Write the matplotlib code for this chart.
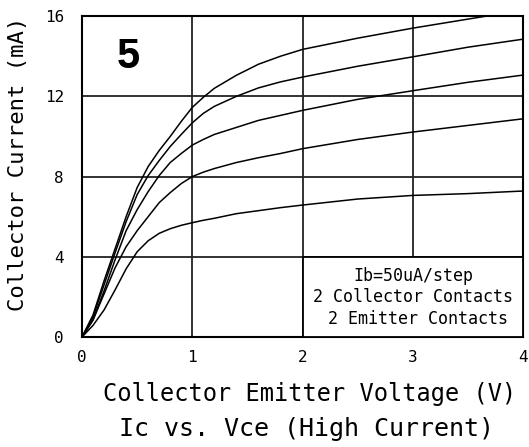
import matplotlib
matplotlib.use("Agg")
import matplotlib.pyplot as plt
from matplotlib.patches import Rectangle

# Vce sample points (V) and collector current curves (mA), one per Ib step
vce = [0, 0.1, 0.2, 0.3, 0.4, 0.5, 0.6, 0.7, 0.8, 0.9, 1.0, 1.1, 1.2, 1.4, 1.6, 1.8, 2.0, 2.5, 3.0, 3.5, 4.0]
ic_250 = [0, 1.1, 2.8, 4.4, 6.0, 7.45, 8.5, 9.3, 10.0, 10.75, 11.45, 11.95, 12.4, 13.05, 13.6, 14.0, 14.34, 14.9, 15.4, 15.85, 16.3]
ic_200 = [0, 1.0, 2.6, 4.2, 5.75, 7.1, 8.05, 8.8, 9.5, 10.1, 10.68, 11.15, 11.5, 12.0, 12.42, 12.72, 12.96, 13.5, 13.97, 14.45, 14.85]
ic_150 = [0, 0.85, 2.3, 3.85, 5.3, 6.35, 7.25, 8.05, 8.7, 9.15, 9.57, 9.85, 10.1, 10.45, 10.8, 11.05, 11.3, 11.85, 12.28, 12.7, 13.06]
ic_100 = [0, 0.85, 2.15, 3.45, 4.5, 5.3, 6.0, 6.7, 7.2, 7.65, 8.0, 8.22, 8.4, 8.7, 8.94, 9.15, 9.39, 9.85, 10.22, 10.55, 10.88]
ic_50 = [0, 0.58, 1.35, 2.35, 3.4, 4.25, 4.8, 5.17, 5.4, 5.57, 5.7, 5.82, 5.92, 6.15, 6.3, 6.45, 6.58, 6.88, 7.06, 7.15, 7.28]
curves = [ic_250, ic_200, ic_150, ic_100, ic_50]

x_ticks = [0, 1, 2, 3, 4]
y_ticks = [0, 4, 8, 12, 16]
notes = ["Ib=50uA/step", "2 Collector Contacts", "2 Emitter Contacts"]

mono = "DejaVu Sans Mono"

fig = plt.figure(figsize=(5.29, 4.47), dpi=100)
ax = fig.add_axes([0.155, 0.246, 0.834, 0.718])

for ic in curves:
    ax.plot(vce, ic, color="black", linewidth=1.1, zorder=3)

ax.set_xlim(0, 4)
ax.set_ylim(0, 16)
ax.set_xticks(x_ticks)
ax.set_yticks(y_ticks)
ax.grid(True, color="#222222", linewidth=1.3)
ax.tick_params(length=0, labelsize=11.5)
ax.tick_params(axis="x", pad=9)
ax.tick_params(axis="y", pad=13)
for lbl in ax.get_xticklabels() + ax.get_yticklabels():
    lbl.set_family(mono)
for s in ax.spines.values():
    s.set_linewidth(1.5)

# notes box in the lower right corner
ax.add_patch(Rectangle((2, 0), 2, 4, facecolor="white", edgecolor="black",
                       linewidth=1.3, zorder=4))
for i, t in enumerate(notes):
    ax.text(3.0 if i < 2 else 3.05, 3.06 - i * 1.08, t, ha="center", va="center",
            family=mono, fontsize=12, zorder=5)

ax.text(0.42, 13.95, "5", ha="center", va="center", fontsize=30,
        fontweight="bold", family="Liberation Sans")

fig.text(0.585, 0.118, "Collector Emitter Voltage (V)", ha="center", va="center",
         family=mono, fontsize=17)
fig.text(0.58, 0.04, "Ic vs. Vce (High Current)", ha="center", va="center",
         family=mono, fontsize=18)
fig.text(0.034, 0.633, "Collector Current (mA)", ha="center", va="center",
         rotation=90, family=mono, fontsize=16)

fig.savefig("out.png", dpi=100)
